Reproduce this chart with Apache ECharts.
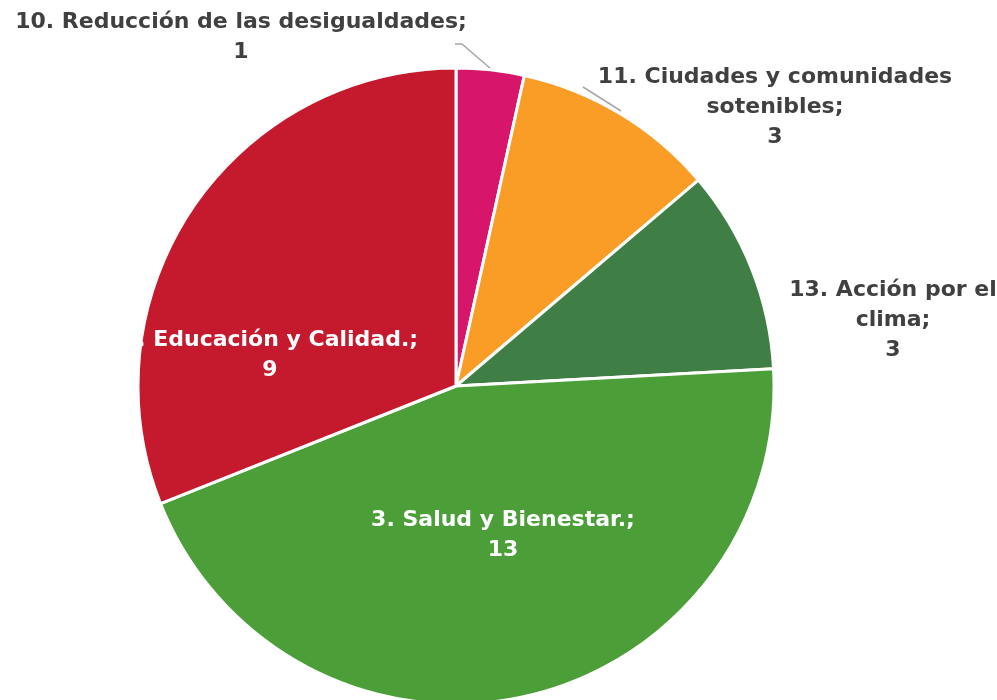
<!DOCTYPE html>
<html>
<head>
<meta charset="utf-8">
<script src="https://cdn.jsdelivr.net/npm/echarts@6/dist/echarts.min.js"></script>
<style>
  html, body { margin: 0; padding: 0; background: #fff; }
  #chart { width: 997px; height: 700px; }
</style>
</head>
<body>
<div id="chart"></div>
<script>
// Datos
const categories = [
  '10. Reducción de las desigualdades',
  '11. Ciudades y comunidades\nsotenibles',
  '13. Acción por el\nclima',
  '3. Salud y Bienestar.',
  '4. Educación y Calidad.'
]
const values = [1, 3, 3, 13, 9]
const colors = ['#D7156A', '#F99D26', '#3F7E44', '#4C9F38', '#C5192D']

// Posición de cada etiqueta (centro del bloque) y línea guía
const labelPos = [
  { x: 241, y: 37, line: [[491, 69], [462, 44], [455, 44]] },
  { x: 775, y: 107, line: [[621, 111], [583, 87]] },
  { x: 893, y: 320, line: null },
  { x: 503, y: 535, line: null },
  { x: 270, y: 355, line: null }
]
const inside = [false, false, false, true, true]

const chart = echarts.init(document.getElementById('chart'))

chart.setOption({
  animation: false,
  color: colors,
  series: [{
    type: 'pie',
    center: [456, 386],
    radius: 318,
    startAngle: 90,
    clockwise: true,
    avoidLabelOverlap: false,
    itemStyle: { borderColor: '#fff', borderWidth: 3 },
    label: {
      show: true,
      formatter: '{b};\n{c}',
      fontFamily: 'DejaVu Sans',
      fontWeight: 'bold',
      fontSize: 22,
      lineHeight: 30,
      align: 'center'
    },
    labelLine: {
      show: true,
      lineStyle: { color: '#A6A6A6', width: 1.5 }
    },
    labelLayout: (p) => {
      const pos = labelPos[p.dataIndex]
      const res = { x: pos.x, y: pos.y, align: 'center', verticalAlign: 'middle' }
      if (pos.line) res.labelLinePoints = pos.line
      return res
    },
    data: categories.map((name, i) => ({
      name,
      value: values[i],
      label: { color: inside[i] ? '#FFFFFF' : '#404040' },
      labelLine: { show: !!labelPos[i].line }
    }))
  }]
})
</script>
</body>
</html>
